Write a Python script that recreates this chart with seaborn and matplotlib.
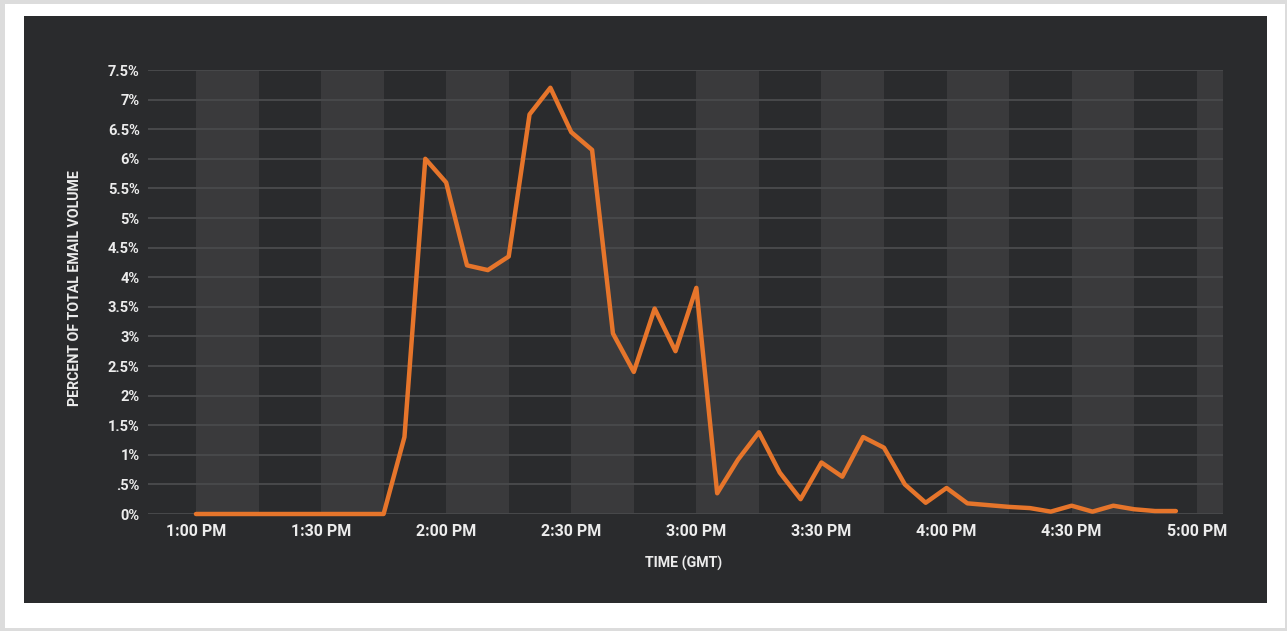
import matplotlib
matplotlib.use("Agg")
import matplotlib.pyplot as plt
from matplotlib.patches import Rectangle
import seaborn as sns
import pandas as pd

# ---- data (minutes after 1:00 PM, percent of total email volume) ----
minutes = list(range(0, 240, 5))
volume_pct = [0, 0, 0, 0, 0, 0, 0, 0, 0, 0,
              1.3, 6.0, 5.6, 4.2, 4.12, 4.35, 6.75, 7.2, 6.45, 6.15,
              3.05, 2.4, 3.47, 2.75, 3.82, 0.35, 0.92, 1.38, 0.7, 0.25,
              0.87, 0.63, 1.3, 1.12, 0.5, 0.19, 0.44, 0.18, 0.15, 0.12,
              0.1, 0.04, 0.14, 0.04, 0.14, 0.08, 0.05, 0.05]
x_tick_pos = [0, 30, 60, 90, 120, 150, 180, 210, 240]
x_tick_labels = ["1:00 PM", "1:30 PM", "2:00 PM", "2:30 PM", "3:00 PM",
                 "3:30 PM", "4:00 PM", "4:30 PM", "5:00 PM"]
y_ticks = [0, 0.5, 1, 1.5, 2, 2.5, 3, 3.5, 4, 4.5, 5, 5.5, 6, 6.5, 7, 7.5]
y_tick_labels = ["0%", ".5%", "1%", "1.5%", "2%", "2.5%", "3%", "3.5%", "4%",
                 "4.5%", "5%", "5.5%", "6%", "6.5%", "7%", "7.5%"]
band_starts = [0, 30, 60, 90, 120, 150, 180, 210, 240]

df = pd.DataFrame({"minute": minutes, "pct": volume_pct})

PANEL = "#2a2b2d"
BAND = "#3a3a3c"
GRID = "#48494b"
LINE = "#e6752b"
TEXT = "#ececec"

sns.set_theme(style="dark")
plt.rcParams["font.family"] = ["Roboto", "DejaVu Sans"]

W, H = 1287, 631
fig = plt.figure(figsize=(W / 100, H / 100), dpi=100)
fig.patch.set_facecolor("#dcdcdc")
# white card inside gray frame
fig.add_artist(Rectangle((5 / W, 1 - 628 / H), (1285 - 5) / W, (628 - 4) / H,
                         transform=fig.transFigure, facecolor="white",
                         edgecolor="none", zorder=-3))
# dark panel
fig.add_artist(Rectangle((24 / W, 1 - 603 / H), (1267 - 24) / W, (603 - 16) / H,
                         transform=fig.transFigure, facecolor=PANEL,
                         edgecolor="none", zorder=-2))

left, right, top, bottom = 148, 1223, 70, 514
ax = fig.add_axes([left / W, 1 - bottom / H, (right - left) / W, (bottom - top) / H])
ax.set_facecolor(PANEL)

xmin, xmax = -11.5, 246.3
for s in band_starts:
    ax.axvspan(s, min(s + 15, xmax), color=BAND, lw=0, zorder=0)

for yv in y_ticks:
    ax.axhline(yv, color=GRID, lw=1.4, zorder=1)

sns.lineplot(data=df, x="minute", y="pct", ax=ax, color=LINE, lw=3.2,
             zorder=3, clip_on=False)

ax.set_xlim(xmin, xmax)
ax.set_ylim(0, 7.5)
ax.set_xticks(x_tick_pos)
ax.set_xticklabels(x_tick_labels)
ax.set_yticks(y_ticks)
ax.set_yticklabels(y_tick_labels)
ax.tick_params(axis="both", length=0, colors=TEXT)
ax.tick_params(axis="y", pad=6, labelsize=10.5)
ax.tick_params(axis="x", pad=7, labelsize=11.5)
for lab in ax.get_xticklabels() + ax.get_yticklabels():
    lab.set_fontweight("bold")
ax.grid(False)
for sp in ax.spines.values():
    sp.set_visible(False)

ax.set_xlabel("TIME (GMT)", color=TEXT, fontsize=10.2, fontweight="bold")
ax.set_ylabel("PERCENT OF TOTAL EMAIL VOLUME", color=TEXT, fontsize=10.2,
              fontweight="bold")
ax.xaxis.set_label_coords((684 - left) / (right - left), -(563 - bottom) / (bottom - top),
                          transform=ax.transAxes)
ax.xaxis.label.set_verticalalignment("center")
ax.yaxis.set_label_coords(-(left - 75) / (right - left), (bottom - 288) / (bottom - top))
ax.yaxis.label.set_verticalalignment("center")

fig.savefig("out.png", dpi=100, facecolor=fig.get_facecolor())
